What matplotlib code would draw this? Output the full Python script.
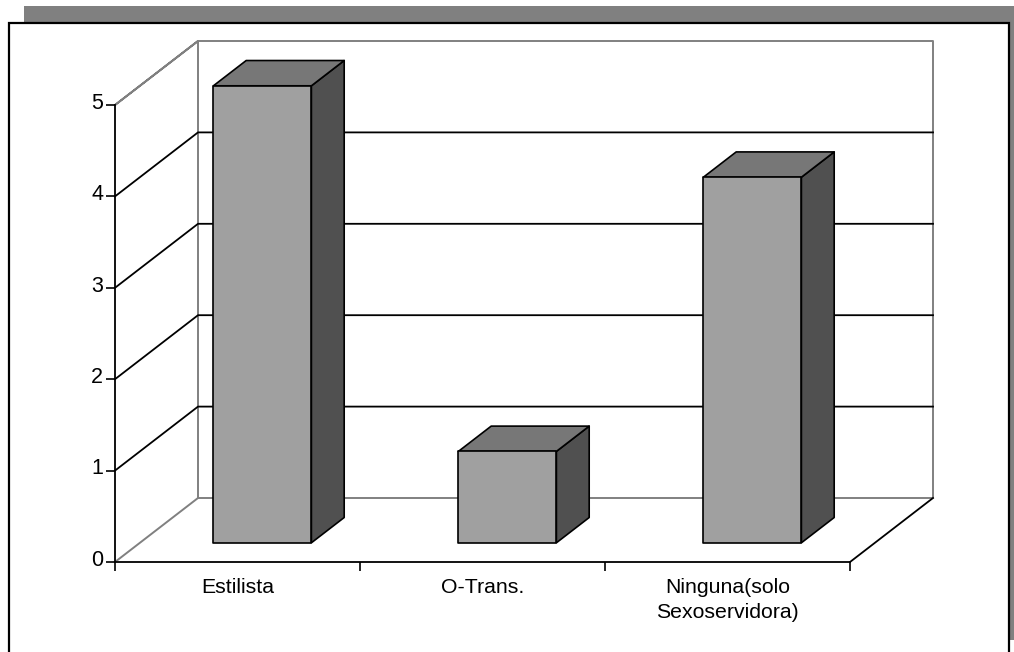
"""3D-look bar chart, drawn with a simple shear projection on a normal axes."""
import matplotlib; matplotlib.use('Agg'); import matplotlib.pyplot as plt
from matplotlib.patches import Polygon, Rectangle
from matplotlib.transforms import ScaledTranslation

categories = ['Estilista', 'O-Trans.', 'Ninguna(solo\nSexoservidora)']
values = [5, 1, 4]
yticks = [0, 1, 2, 3, 4, 5]

FRONT = '#a0a0a0'; TOP = '#777777'; SIDE = '#505050'; WALL = '#808080'; INK = '#000000'
W, H = 1014, 652
DX, DY = 83/245, 64/91.4   # shear of full depth, in category / value units
BAR_W = 0.40; Z0 = 0.30; Z1 = 0.695

plt.rcParams.update({'font.family': ['Liberation Sans', 'DejaVu Sans']})
fig = plt.figure(figsize=(W/100, H/100), dpi=100, facecolor='white')

# page frame + grey shadow, pixel coordinates
bg = fig.add_axes([0, 0, 1, 1]); bg.set_xlim(0, W); bg.set_ylim(H, 0); bg.axis('off')
bg.add_patch(Rectangle((24, 6), W-24, 634, fc=WALL, ec='none', zorder=1))
bg.add_patch(Rectangle((9, 23), 1000, 640, fc='white', ec=INK, lw=1.6, zorder=2))

ax = fig.add_axes([115/W, (H-562)/H, 735/W, 457/H]); ax.patch.set_visible(False)
ax.set_xlim(0, len(categories)); ax.set_ylim(0, max(yticks))
for s in ['top', 'right']: ax.spines[s].set_visible(False)
for s in ['left', 'bottom']: ax.spines[s].set_linewidth(1.3)

def pj(x, y, z=0.0): return (x + z*DX, y + z*DY)
n = len(categories); ym = max(yticks)

def line(pts, color, lw=1.3, zo=1):
    ax.plot([p[0] for p in pts], [p[1] for p in pts], color=color, lw=lw, clip_on=False, zorder=zo, solid_capstyle='projecting')

# walls and floor
line([pj(0, 0), pj(0, 0, 1), pj(0, ym, 1), pj(0, ym), pj(0, ym, 1), pj(n, ym, 1), pj(n, 0, 1), pj(0, 0, 1)], WALL, 1.4)
line([pj(n, 0), pj(n, 0, 1)], INK)
for v in yticks[1:-1]:
    line([pj(0, v), pj(0, v, 1), pj(n, v, 1)], INK)

# bars
for i, v in enumerate(values):
    l = i + 0.5 - BAR_W/2; r = l + BAR_W
    face = [pj(l, 0, Z0), pj(r, 0, Z0), pj(r, v, Z0), pj(l, v, Z0)]
    top = [pj(l, v, Z0), pj(r, v, Z0), pj(r, v, Z1), pj(l, v, Z1)]
    side = [pj(r, 0, Z0), pj(r, 0, Z1), pj(r, v, Z1), pj(r, v, Z0)]
    for pts, c in [(side, SIDE), (top, TOP), (face, FRONT)]:
        ax.add_patch(Polygon(pts, closed=True, fc=c, ec=INK, lw=1.2, clip_on=False, zorder=3, joinstyle='round'))

# ticks
ax.set_yticks(yticks); ax.set_yticklabels([str(t) for t in yticks], fontsize=15.5)
ax.tick_params(axis='y', length=6.5, width=1.2, pad=2)
for lab in ax.get_yticklabels():
    lab.set_transform(lab.get_transform() + ScaledTranslation(0, 3/72, fig.dpi_scale_trans))
ax.set_xticks(range(n+1)); ax.set_xticklabels([])
ax.tick_params(axis='x', which='major', length=6.5, width=1.2)
ax.set_xticks([i+0.5 for i in range(n)], minor=True); ax.set_xticklabels(categories, minor=True, fontsize=15.3, linespacing=1.41)
ax.tick_params(axis='x', which='minor', length=0, pad=11.5)

fig.savefig('out.png', dpi=100)
